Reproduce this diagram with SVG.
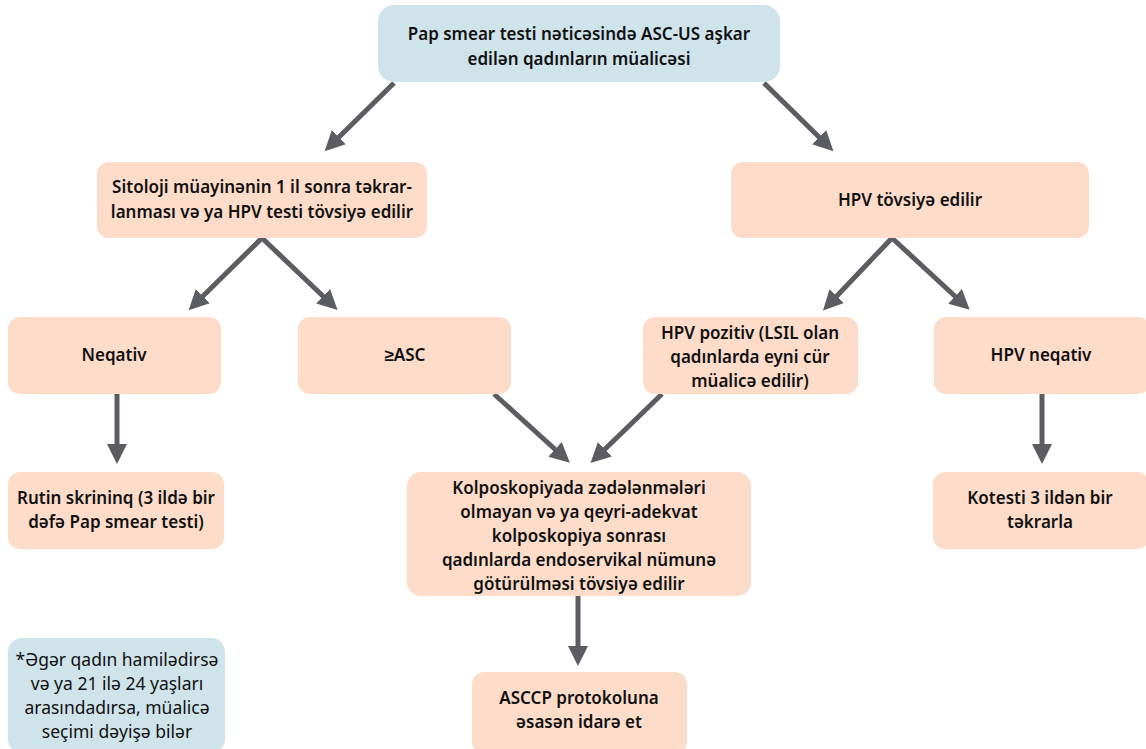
<svg xmlns="http://www.w3.org/2000/svg" width="1146" height="749" viewBox="0 0 1146 749">
<style>
.b{fill:#cfe3ea}
.p{fill:#fedcca}
text{font-family:"Noto Sans","Liberation Sans",sans-serif;font-size:17px;font-weight:600;fill:#111;text-anchor:middle}
.n{font-weight:400;font-size:17.5px}
.c{stroke:#5c5c63;stroke-width:5;fill:none;marker-end:url(#ah)}
</style>
<defs>
<marker id="ah" markerUnits="userSpaceOnUse" markerWidth="22" markerHeight="22" viewBox="0 0 22 22" refX="4" refY="11" orient="auto">
<path d="M0,1 L20,11 L0,21 Z" fill="#5c5c63"/>
</marker>
</defs>
<g id="connectors">
<line class="c" x1="394" y1="83" x2="336" y2="140"/>
<line class="c" x1="764" y1="83" x2="822" y2="140"/>
<line class="c" x1="262" y1="238" x2="200" y2="299"/>
<line class="c" x1="262" y1="238" x2="326" y2="299"/>
<line class="c" x1="892" y1="238" x2="834" y2="299"/>
<line class="c" x1="892" y1="238" x2="958" y2="299"/>
<line class="c" x1="117" y1="394" x2="117" y2="448"/>
<line class="c" x1="494" y1="394" x2="558" y2="452"/>
<line class="c" x1="662" y1="394" x2="602" y2="452"/>
<line class="c" x1="1042" y1="394" x2="1042" y2="448"/>
<line class="c" x1="578" y1="596" x2="578" y2="650"/>
</g>
<g id="n1"><rect class="b" x="378" y="5" width="402" height="77" rx="16"/>
<text x="579" y="40">Pap smear testi nəticəsində ASC-US aşkar</text>
<text x="579" y="65">edilən qadınların müalicəsi</text></g>
<g id="n2"><rect class="p" x="97" y="162" width="330" height="76" rx="12"/>
<text x="262" y="193">Sitoloji müayinənin 1 il sonra təkrar-</text>
<text x="262" y="218">lanması və ya HPV testi tövsiyə edilir</text></g>
<g id="n3"><rect class="p" x="731" y="162" width="358" height="76" rx="12"/>
<text x="910" y="206">HPV tövsiyə edilir</text></g>
<g id="n4"><rect class="p" x="8" y="317" width="213" height="77" rx="12"/>
<text x="114" y="361">Neqativ</text></g>
<g id="n5"><rect class="p" x="298" y="317" width="213" height="77" rx="12"/>
<text x="405" y="361">≥ASC</text></g>
<g id="n6"><rect class="p" x="643" y="317" width="215" height="77" rx="12"/>
<text x="750" y="339">HPV pozitiv (LSIL olan</text>
<text x="750" y="363">qadınlarda eyni cür</text>
<text x="750" y="387">müalicə edilir)</text></g>
<g id="n7"><rect class="p" x="934" y="317" width="216" height="77" rx="12"/>
<text x="1041" y="361">HPV neqativ</text></g>
<g id="n8"><rect class="p" x="8" y="472" width="216" height="77" rx="12"/>
<text x="116" y="504">Rutin skrininq (3 ildə bir</text>
<text x="116" y="528">dəfə Pap smear testi)</text></g>
<g id="n9"><rect class="p" x="407" y="472" width="344" height="124" rx="14"/>
<text x="579" y="494">Kolposkopiyada zədələnmələri</text>
<text x="579" y="518">olmayan və ya qeyri-adekvat</text>
<text x="579" y="542">kolposkopiya sonrası</text>
<text x="579" y="566">qadınlarda endoservikal nümunə</text>
<text x="579" y="590">götürülməsi tövsiyə edilir</text></g>
<g id="n10"><rect class="p" x="933" y="472" width="216" height="77" rx="12"/>
<text x="1040" y="504">Kotesti 3 ildən bir</text>
<text x="1040" y="528">təkrarla</text></g>
<g id="n11"><rect class="p" x="472" y="672" width="215" height="82" rx="12"/>
<text x="579" y="704">ASCCP protokoluna</text>
<text x="579" y="728">əsasən idarə et</text></g>
<g id="note"><rect class="b" x="8" y="638" width="217" height="115" rx="14"/>
<text class="n" x="117" y="666">*Əgər qadın hamilədirsə</text>
<text class="n" x="117" y="690">və ya 21 ilə 24 yaşları</text>
<text class="n" x="117" y="714">arasındadırsa, müalicə</text>
<text class="n" x="117" y="738">seçimi dəyişə bilər</text></g>
</svg>
